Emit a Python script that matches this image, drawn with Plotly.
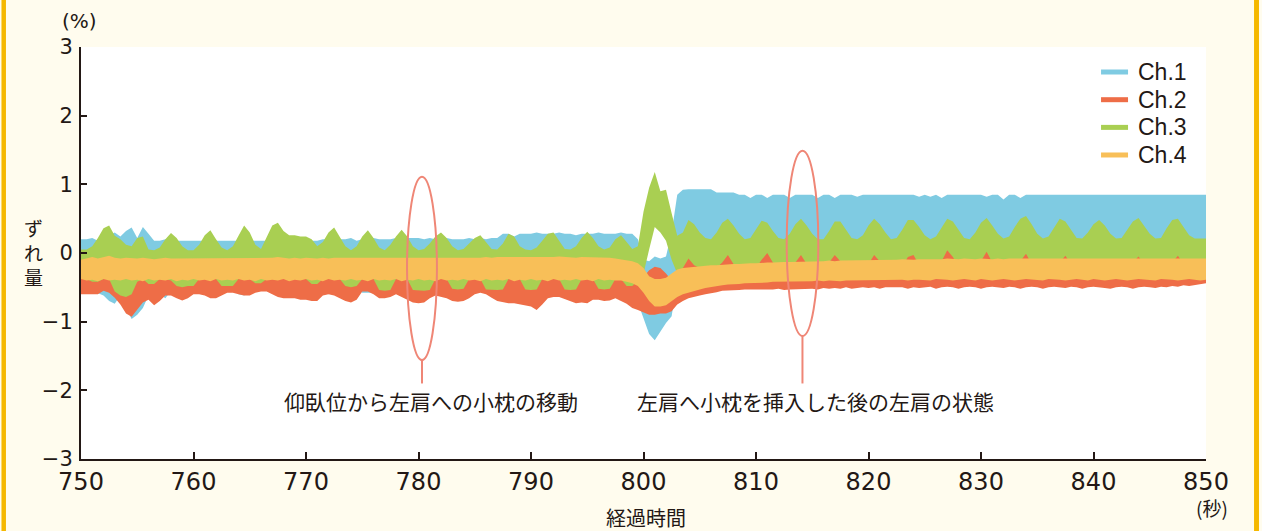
import plotly.graph_objects as go

# time grid (s), 0.5 s step, 750 .. 850
T = [750 + 0.5 * i for i in range(201)]

# Ch.1 (blue) upper / lower envelope (%)
ch1_hi = [
    0.20, 0.20, 0.22, 0.18, 0.20, 0.26, 0.30, 0.24, 0.32, 0.37,
    0.22, 0.38, 0.28, 0.18, 0.18, 0.20, 0.18, 0.18, 0.18, 0.18,
    0.18, 0.18, 0.18, 0.20, 0.18, 0.18, 0.18, 0.18, 0.18, 0.18,
    0.18, 0.18, 0.18, 0.18, 0.18, 0.22, 0.18, 0.18, 0.18, 0.22,
    0.20, 0.18, 0.18, 0.20, 0.20, 0.20, 0.20, 0.20, 0.22, 0.18,
    0.20, 0.20, 0.22, 0.20, 0.20, 0.20, 0.22, 0.20, 0.22, 0.22,
    0.22, 0.20, 0.22, 0.20, 0.20, 0.22, 0.20, 0.20, 0.20, 0.22,
    0.20, 0.22, 0.20, 0.22, 0.22, 0.28, 0.28, 0.24, 0.28, 0.28,
    0.28, 0.30, 0.28, 0.28, 0.28, 0.30, 0.28, 0.28, 0.26, 0.28,
    0.28, 0.28, 0.30, 0.28, 0.28, 0.28, 0.30, 0.28, 0.28, 0.20,
    -0.10, -0.12, -0.05, -0.08, -0.05, 0.30, 0.85, 0.92, 0.93, 0.93,
    0.93, 0.93, 0.93, 0.88, 0.88, 0.88, 0.88, 0.85, 0.85, 0.80,
    0.85, 0.85, 0.80, 0.85, 0.85, 0.85, 0.80, 0.85, 0.85, 0.85,
    0.85, 0.80, 0.85, 0.85, 0.80, 0.85, 0.85, 0.85, 0.82, 0.85,
    0.85, 0.85, 0.85, 0.85, 0.85, 0.85, 0.85, 0.85, 0.85, 0.82,
    0.85, 0.82, 0.85, 0.80, 0.85, 0.85, 0.85, 0.85, 0.85, 0.85,
    0.85, 0.82, 0.85, 0.85, 0.78, 0.85, 0.85, 0.80, 0.85, 0.85,
    0.85, 0.85, 0.85, 0.85, 0.85, 0.85, 0.85, 0.85, 0.85, 0.85,
    0.85, 0.85, 0.85, 0.85, 0.85, 0.85, 0.85, 0.85, 0.85, 0.85,
    0.85, 0.85, 0.85, 0.85, 0.85, 0.85, 0.85, 0.85, 0.85, 0.85,
    0.85,
]
ch1_lo = [
    -0.52, -0.52, -0.55, -0.58, -0.62, -0.70, -0.74, -0.62, -0.80, -0.96,
    -0.90, -0.80, -0.62, -0.55, -0.60, -0.66, -0.55, -0.52, -0.52, -0.52,
    -0.52, -0.52, -0.55, -0.52, -0.52, -0.52, -0.52, -0.52, -0.60, -0.62,
    -0.55, -0.52, -0.52, -0.55, -0.58, -0.60, -0.60, -0.62, -0.60, -0.52,
    -0.52, -0.52, -0.52, -0.58, -0.60, -0.55, -0.52, -0.52, -0.52, -0.52,
    -0.58, -0.58, -0.58, -0.58, -0.55, -0.58, -0.58, -0.55, -0.45, -0.45,
    -0.45, -0.45, -0.45, -0.45, -0.45, -0.45, -0.45, -0.45, -0.45, -0.45,
    -0.45, -0.45, -0.45, -0.45, -0.45, -0.45, -0.45, -0.45, -0.45, -0.45,
    -0.45, -0.45, -0.45, -0.45, -0.45, -0.45, -0.45, -0.45, -0.45, -0.45,
    -0.45, -0.45, -0.45, -0.45, -0.45, -0.45, -0.45, -0.50, -0.58, -0.72,
    -0.95, -1.18, -1.27, -1.15, -1.02, -0.92, -0.40, -0.20, -0.10, 0.00,
    0.00, 0.00, 0.00, 0.00, 0.00, 0.00, 0.00, 0.00, 0.00, 0.00,
    0.00, 0.00, 0.00, 0.00, 0.00, 0.00, 0.00, 0.00, 0.00, 0.00,
    0.00, 0.00, 0.00, 0.00, 0.00, 0.00, 0.00, 0.00, 0.00, 0.00,
    0.00, 0.00, 0.00, 0.00, 0.00, 0.00, 0.00, 0.00, 0.00, 0.00,
    0.00, 0.00, 0.00, 0.00, 0.00, 0.00, 0.00, 0.00, 0.00, 0.00,
    0.00, 0.00, 0.00, 0.00, 0.00, 0.00, 0.00, 0.00, 0.00, 0.00,
    0.00, 0.00, 0.00, 0.00, 0.00, 0.00, 0.00, 0.00, 0.00, 0.00,
    0.00, 0.00, 0.00, 0.00, 0.00, 0.00, 0.00, 0.00, 0.00, 0.00,
    0.00, 0.00, 0.00, 0.00, 0.00, 0.00, 0.00, 0.00, 0.00, 0.00,
    0.00,
]

# Ch.2 (red)
ch2_hi = [
    -0.38, -0.38, -0.42, -0.42, -0.38, -0.38, -0.56, -0.62, -0.64, -0.60,
    -0.42, -0.38, -0.45, -0.45, -0.38, -0.38, -0.40, -0.48, -0.50, -0.48,
    -0.48, -0.38, -0.38, -0.38, -0.38, -0.48, -0.48, -0.48, -0.38, -0.38,
    -0.38, -0.44, -0.44, -0.38, -0.38, -0.38, -0.38, -0.38, -0.38, -0.38,
    -0.38, -0.45, -0.45, -0.38, -0.38, -0.38, -0.38, -0.48, -0.50, -0.48,
    -0.38, -0.38, -0.38, -0.54, -0.55, -0.54, -0.38, -0.38, -0.38, -0.54,
    -0.55, -0.55, -0.54, -0.38, -0.38, -0.38, -0.52, -0.53, -0.52, -0.38,
    -0.38, -0.38, -0.53, -0.54, -0.54, -0.53, -0.38, -0.38, -0.38, -0.53,
    -0.54, -0.53, -0.38, -0.38, -0.38, -0.38, -0.53, -0.54, -0.53, -0.38,
    -0.38, -0.38, -0.52, -0.53, -0.52, -0.38, -0.38, -0.48, -0.48, -0.40,
    -0.35, -0.25, -0.20, -0.22, -0.30, -0.40, -0.30, -0.22, -0.08, -0.18,
    -0.22, -0.22, -0.22, -0.22, -0.14, -0.03, -0.16, -0.22, -0.22, -0.22,
    -0.22, -0.10, 0.00, -0.14, -0.22, -0.22, -0.22, -0.14, -0.03, -0.16,
    -0.22, -0.22, -0.22, -0.14, -0.03, -0.12, -0.22, -0.22, -0.22, -0.22,
    -0.16, -0.03, -0.12, -0.22, -0.22, -0.22, -0.20, -0.06, -0.03, -0.18,
    -0.22, -0.22, -0.22, -0.12, 0.04, -0.06, -0.20, -0.22, -0.22, -0.22,
    -0.12, 0.02, -0.14, -0.22, -0.22, -0.22, -0.22, -0.12, -0.01, -0.16,
    -0.22, -0.22, -0.22, -0.22, -0.14, -0.04, -0.16, -0.22, -0.22, -0.22,
    -0.22, -0.22, -0.22, -0.22, -0.22, -0.22, -0.22, -0.14, -0.05, -0.16,
    -0.22, -0.22, -0.22, -0.22, -0.14, -0.04, -0.16, -0.22, -0.22, -0.22,
    -0.22,
]
ch2_lo = [
    -0.60, -0.60, -0.60, -0.60, -0.55, -0.58, -0.65, -0.75, -0.88, -0.93,
    -0.82, -0.72, -0.68, -0.76, -0.70, -0.62, -0.62, -0.66, -0.69, -0.66,
    -0.60, -0.60, -0.62, -0.66, -0.66, -0.62, -0.58, -0.58, -0.60, -0.62,
    -0.62, -0.58, -0.56, -0.56, -0.60, -0.64, -0.66, -0.66, -0.66, -0.68,
    -0.68, -0.70, -0.70, -0.62, -0.60, -0.62, -0.66, -0.70, -0.72, -0.68,
    -0.56, -0.56, -0.60, -0.66, -0.66, -0.64, -0.60, -0.64, -0.68, -0.72,
    -0.73, -0.72, -0.66, -0.62, -0.64, -0.66, -0.70, -0.71, -0.70, -0.66,
    -0.60, -0.58, -0.60, -0.65, -0.70, -0.72, -0.73, -0.73, -0.74, -0.76,
    -0.78, -0.83, -0.75, -0.66, -0.64, -0.64, -0.66, -0.70, -0.73, -0.72,
    -0.73, -0.68, -0.68, -0.70, -0.69, -0.66, -0.70, -0.74, -0.80, -0.83,
    -0.86, -0.90, -0.90, -0.88, -0.88, -0.85, -0.75, -0.70, -0.66, -0.64,
    -0.62, -0.60, -0.58, -0.57, -0.55, -0.55, -0.54, -0.54, -0.53, -0.53,
    -0.53, -0.52, -0.53, -0.53, -0.52, -0.54, -0.53, -0.52, -0.53, -0.52,
    -0.52, -0.53, -0.51, -0.52, -0.51, -0.52, -0.50, -0.52, -0.51, -0.50,
    -0.51, -0.50, -0.52, -0.50, -0.51, -0.50, -0.50, -0.52, -0.50, -0.51,
    -0.50, -0.49, -0.52, -0.50, -0.49, -0.50, -0.52, -0.50, -0.49, -0.50,
    -0.52, -0.50, -0.49, -0.50, -0.51, -0.49, -0.50, -0.52, -0.50, -0.49,
    -0.50, -0.52, -0.50, -0.49, -0.50, -0.51, -0.49, -0.50, -0.52, -0.50,
    -0.49, -0.50, -0.51, -0.52, -0.50, -0.49, -0.50, -0.52, -0.50, -0.49,
    -0.50, -0.51, -0.49, -0.50, -0.48, -0.49, -0.47, -0.48, -0.46, -0.45,
    -0.44,
]

# Ch.3 (green)
ch3_hi = [
    0.05, 0.05, 0.10, 0.22, 0.36, 0.40, 0.25, 0.20, 0.12, 0.10,
    0.22, 0.24, 0.05, 0.04, 0.08, 0.20, 0.29, 0.22, 0.10, 0.04,
    0.04, 0.12, 0.26, 0.33, 0.20, 0.08, 0.04, 0.10, 0.25, 0.40,
    0.30, 0.12, 0.06, 0.22, 0.40, 0.44, 0.32, 0.26, 0.26, 0.24,
    0.24, 0.20, 0.10, 0.16, 0.30, 0.37, 0.24, 0.10, 0.04, 0.10,
    0.24, 0.33, 0.22, 0.08, 0.04, 0.12, 0.24, 0.34, 0.24, 0.10,
    0.04, 0.06, 0.14, 0.24, 0.30, 0.22, 0.10, 0.04, 0.06, 0.14,
    0.22, 0.26, 0.16, 0.06, 0.05, 0.14, 0.28, 0.24, 0.10, 0.05,
    0.04, 0.08, 0.18, 0.28, 0.30, 0.18, 0.06, 0.05, 0.10, 0.22,
    0.31, 0.22, 0.10, 0.05, 0.08, 0.20, 0.26, 0.16, 0.06, 0.10,
    0.60, 0.95, 1.18, 0.90, 0.92, 0.58, 0.25, 0.30, 0.48, 0.42,
    0.30, 0.22, 0.20, 0.30, 0.44, 0.50, 0.40, 0.28, 0.20, 0.22,
    0.34, 0.47, 0.44, 0.32, 0.22, 0.20, 0.28, 0.42, 0.50, 0.40,
    0.28, 0.20, 0.20, 0.32, 0.46, 0.46, 0.34, 0.22, 0.20, 0.26,
    0.40, 0.50, 0.42, 0.30, 0.20, 0.22, 0.34, 0.48, 0.48, 0.38,
    0.26, 0.20, 0.24, 0.38, 0.50, 0.46, 0.34, 0.22, 0.20, 0.30,
    0.44, 0.51, 0.40, 0.28, 0.21, 0.24, 0.38, 0.50, 0.54, 0.42,
    0.28, 0.21, 0.24, 0.38, 0.50, 0.46, 0.34, 0.22, 0.21, 0.30,
    0.42, 0.48, 0.40, 0.28, 0.21, 0.22, 0.34, 0.46, 0.51, 0.40,
    0.28, 0.21, 0.22, 0.36, 0.48, 0.50, 0.38, 0.26, 0.21, 0.21,
    0.21,
]
ch3_lo = [
    -0.40, -0.40, -0.44, -0.44, -0.40, -0.40, -0.58, -0.64, -0.66, -0.62,
    -0.44, -0.40, -0.47, -0.47, -0.40, -0.40, -0.42, -0.50, -0.52, -0.50,
    -0.50, -0.40, -0.40, -0.40, -0.40, -0.50, -0.50, -0.50, -0.40, -0.40,
    -0.40, -0.46, -0.46, -0.40, -0.40, -0.40, -0.40, -0.40, -0.40, -0.40,
    -0.40, -0.47, -0.47, -0.40, -0.40, -0.40, -0.40, -0.50, -0.52, -0.50,
    -0.40, -0.40, -0.40, -0.56, -0.57, -0.56, -0.40, -0.40, -0.40, -0.56,
    -0.57, -0.57, -0.56, -0.40, -0.40, -0.40, -0.54, -0.55, -0.54, -0.40,
    -0.40, -0.40, -0.55, -0.56, -0.56, -0.55, -0.40, -0.40, -0.40, -0.55,
    -0.56, -0.55, -0.40, -0.40, -0.40, -0.40, -0.55, -0.56, -0.55, -0.40,
    -0.40, -0.40, -0.54, -0.55, -0.54, -0.40, -0.40, -0.50, -0.50, -0.50,
    -0.30, 0.05, 0.38, 0.30, 0.18, -0.10, -0.30, -0.30, -0.30, -0.30,
    -0.30, -0.30, -0.30, -0.30, -0.30, -0.30, -0.30, -0.30, -0.30, -0.30,
    -0.30, -0.30, -0.30, -0.30, -0.30, -0.30, -0.30, -0.30, -0.30, -0.30,
    -0.30, -0.30, -0.30, -0.30, -0.30, -0.30, -0.30, -0.30, -0.30, -0.30,
    -0.30, -0.30, -0.30, -0.30, -0.30, -0.30, -0.30, -0.30, -0.30, -0.30,
    -0.30, -0.30, -0.30, -0.30, -0.30, -0.30, -0.30, -0.30, -0.30, -0.30,
    -0.30, -0.30, -0.30, -0.30, -0.30, -0.30, -0.30, -0.30, -0.30, -0.30,
    -0.30, -0.30, -0.30, -0.30, -0.30, -0.30, -0.30, -0.30, -0.30, -0.30,
    -0.30, -0.30, -0.30, -0.30, -0.30, -0.30, -0.30, -0.30, -0.30, -0.30,
    -0.30, -0.30, -0.30, -0.30, -0.30, -0.30, -0.30, -0.30, -0.30, -0.30,
    -0.30,
]

# Ch.4 (orange)
ch4_hi = [
    -0.10, -0.08, -0.06, -0.08, -0.06, -0.04, -0.07, -0.08, -0.07, -0.08,
    -0.08, -0.07, -0.08, -0.09, -0.08, -0.07, -0.08, -0.08, -0.07, -0.08,
    -0.08, -0.07, -0.08, -0.08, -0.07, -0.08, -0.08, -0.07, -0.08, -0.07,
    -0.07, -0.08, -0.07, -0.08, -0.07, -0.06, -0.07, -0.08, -0.07, -0.08,
    -0.07, -0.08, -0.08, -0.07, -0.08, -0.07, -0.07, -0.08, -0.08, -0.07,
    -0.08, -0.07, -0.08, -0.07, -0.08, -0.08, -0.07, -0.08, -0.07, -0.08,
    -0.08, -0.07, -0.08, -0.08, -0.07, -0.08, -0.08, -0.07, -0.08, -0.07,
    -0.08, -0.07, -0.06, -0.07, -0.06, -0.06, -0.07, -0.06, -0.06, -0.07,
    -0.06, -0.06, -0.07, -0.06, -0.06, -0.05, -0.06, -0.06, -0.07, -0.06,
    -0.06, -0.06, -0.07, -0.06, -0.07, -0.08, -0.09, -0.10, -0.12, -0.15,
    -0.22, -0.34, -0.38, -0.38, -0.36, -0.30, -0.24, -0.22, -0.21, -0.20,
    -0.20, -0.19, -0.18, -0.18, -0.17, -0.17, -0.16, -0.16, -0.15, -0.15,
    -0.15, -0.14, -0.14, -0.14, -0.13, -0.13, -0.13, -0.13, -0.12, -0.13,
    -0.12, -0.12, -0.12, -0.11, -0.12, -0.11, -0.11, -0.11, -0.10, -0.11,
    -0.10, -0.10, -0.11, -0.10, -0.10, -0.10, -0.09, -0.10, -0.10, -0.09,
    -0.09, -0.09, -0.10, -0.09, -0.08, -0.09, -0.09, -0.08, -0.09, -0.09,
    -0.08, -0.09, -0.09, -0.08, -0.09, -0.08, -0.08, -0.09, -0.08, -0.08,
    -0.09, -0.08, -0.08, -0.09, -0.08, -0.08, -0.09, -0.08, -0.08, -0.09,
    -0.08, -0.08, -0.09, -0.08, -0.08, -0.09, -0.08, -0.08, -0.08, -0.09,
    -0.08, -0.09, -0.08, -0.08, -0.09, -0.08, -0.08, -0.08, -0.09, -0.08,
    -0.08,
]
ch4_lo = [
    -0.38, -0.40, -0.39, -0.41, -0.38, -0.40, -0.39, -0.40, -0.38, -0.40,
    -0.39, -0.41, -0.38, -0.40, -0.39, -0.40, -0.38, -0.41, -0.39, -0.40,
    -0.38, -0.40, -0.39, -0.41, -0.38, -0.40, -0.39, -0.40, -0.38, -0.40,
    -0.39, -0.41, -0.38, -0.40, -0.39, -0.40, -0.38, -0.41, -0.39, -0.40,
    -0.38, -0.40, -0.39, -0.41, -0.38, -0.40, -0.39, -0.40, -0.38, -0.40,
    -0.39, -0.41, -0.38, -0.40, -0.39, -0.40, -0.38, -0.41, -0.39, -0.40,
    -0.38, -0.40, -0.39, -0.41, -0.38, -0.40, -0.39, -0.40, -0.38, -0.40,
    -0.39, -0.41, -0.38, -0.40, -0.39, -0.40, -0.38, -0.41, -0.39, -0.40,
    -0.38, -0.40, -0.39, -0.41, -0.38, -0.40, -0.39, -0.40, -0.38, -0.40,
    -0.39, -0.41, -0.38, -0.40, -0.39, -0.40, -0.40, -0.42, -0.44, -0.48,
    -0.58, -0.70, -0.78, -0.78, -0.76, -0.70, -0.64, -0.60, -0.57, -0.55,
    -0.53, -0.51, -0.50, -0.48, -0.47, -0.46, -0.45, -0.45, -0.44, -0.44,
    -0.43, -0.43, -0.43, -0.42, -0.42, -0.42, -0.41, -0.42, -0.41, -0.41,
    -0.41, -0.40, -0.41, -0.40, -0.40, -0.41, -0.40, -0.40, -0.39, -0.40,
    -0.40, -0.39, -0.40, -0.39, -0.40, -0.39, -0.39, -0.40, -0.39, -0.39,
    -0.39, -0.40, -0.38, -0.39, -0.39, -0.40, -0.39, -0.38, -0.39, -0.40,
    -0.38, -0.39, -0.40, -0.39, -0.38, -0.39, -0.40, -0.39, -0.38, -0.39,
    -0.39, -0.40, -0.38, -0.39, -0.39, -0.40, -0.39, -0.38, -0.39, -0.40,
    -0.38, -0.39, -0.40, -0.39, -0.38, -0.39, -0.40, -0.39, -0.38, -0.39,
    -0.39, -0.40, -0.38, -0.39, -0.39, -0.40, -0.39, -0.38, -0.39, -0.40,
    -0.39,
]

series_names = ["Ch.1", "Ch.2", "Ch.3", "Ch.4"]
colors = {"Ch.1": "#7FCBE2", "Ch.2": "#EE6D47", "Ch.3": "#A9CF52", "Ch.4": "#F8BF58"}
bands = {"Ch.1": (ch1_hi, ch1_lo), "Ch.2": (ch2_hi, ch2_lo),
         "Ch.3": (ch3_hi, ch3_lo), "Ch.4": (ch4_hi, ch4_lo)}
for k, (h, l) in bands.items():
    assert len(h) == len(T) and len(l) == len(T), (k, len(h), len(l))

draw_order = ["Ch.1", "Ch.3", "Ch.2", "Ch.4"]

# annotation markers (ellipses + leader lines), in data units
ellipses = [(778.98, 781.64, -1.56, 1.11), (812.73, 815.54, -1.21, 1.49)]
leaders = [(780.31, -1.56, -1.90), (814.13, -1.21, -1.90)]
notes = [("仰臥位から左肩への小枕の移動", 781.07, -2.16),
         ("左肩へ小枕を挿入した後の左肩の状態", 815.29, -2.16)]

TXT = "#231815"
JP = "Noto Sans CJK JP"
NUM = "DejaVu Sans"
LEG = "Liberation Sans"

fig = go.Figure()
for name in draw_order:
    hi, lo = bands[name]
    fig.add_trace(go.Scatter(
        x=T + T[::-1], y=hi + lo[::-1], mode="lines", fill="toself", name=name,
        fillcolor=colors[name], line=dict(width=0, color=colors[name]),
        hoverinfo="skip", showlegend=False))

shapes = []
for x0, x1, y0, y1 in ellipses:
    shapes.append(dict(type="circle", xref="x", yref="y", x0=x0, x1=x1, y0=y0, y1=y1,
                       line=dict(color="#EF8676", width=2)))
for x, y0, y1 in leaders:
    shapes.append(dict(type="line", xref="x", yref="y", x0=x, x1=x, y0=y0, y1=y1,
                       line=dict(color="#EF8676", width=2)))
# page frame bars
shapes.append(dict(type="rect", xref="paper", yref="paper", x0=-0.0707, x1=-0.0667,
                   y0=-0.3, y1=1.3, fillcolor="#F5B800", line=dict(width=0), layer="below"))
shapes.append(dict(type="rect", xref="paper", yref="paper", x0=1.0427, x1=1.0471,
                   y0=-0.3, y1=1.3, fillcolor="#F5B800", line=dict(width=0), layer="below"))

annotations = []
# legend (drawn as key lines + labels)
leg_y = [0.9393, 0.8721, 0.8049, 0.7379]
for name, yy in zip(series_names, leg_y):
    shapes.append(dict(type="line", xref="paper", yref="paper", x0=0.9067, x1=0.9307,
                       y0=yy, y1=yy, line=dict(color=colors[name], width=5)))
    annotations.append(dict(text=name, x=0.9378, y=yy, xref="paper", yref="paper",
                            xanchor="left", yanchor="middle", showarrow=False,
                            font=dict(family=LEG, size=23, color=TXT)))

for text, x, y in notes:
    annotations.append(dict(text=text, x=x, y=y, xref="x", yref="y", showarrow=False,
                            xanchor="center", yanchor="middle",
                            font=dict(family=JP, size=21, color=TXT)))


def lab(text, x, y, size, family=JP):
    return dict(text=text, x=x, y=y, xref="paper", yref="paper", showarrow=False,
                xanchor="center", yanchor="middle",
                font=dict(family=family, size=size, color=TXT))


annotations += [
    lab("(%)", -0.0009, 1.063, 20, NUM),
    lab("ず<br>れ<br>量", -0.0418, 0.502, 19),
    lab("経過時間", 0.502, -0.141, 20),
    lab("(秒)", 1.0053, -0.118, 19),
]

fig.update_layout(
    width=1262, height=531,
    margin=dict(l=81, r=56, t=47, b=72, pad=0),
    paper_bgcolor="#FFFCEE", plot_bgcolor="#FFFFFF",
    shapes=shapes, annotations=annotations, showlegend=False,
    xaxis=dict(range=[750, 850], tickmode="array", tickvals=list(range(750, 851, 10)),
               ticks="inside", ticklen=7, tickwidth=1.5, tickcolor=TXT,
               showline=True, linecolor=TXT, linewidth=2, showgrid=False, zeroline=False,
               tickfont=dict(family=NUM, size=24, color=TXT), ticklabelstandoff=0),
    yaxis=dict(range=[-3, 3], tickmode="array", tickvals=[-3, -2, -1, 0, 1, 2, 3],
               ticks="inside", ticklen=6, tickwidth=1.5, tickcolor=TXT,
               showline=True, linecolor=TXT, linewidth=2, showgrid=False, zeroline=False,
               tickfont=dict(family=NUM, size=21, color=TXT), ticklabelstandoff=2),
)

fig.write_html("out.html", config={"displayModeBar": False},
               post_script="document.body.style.margin='0';document.body.style.overflow='hidden';")
